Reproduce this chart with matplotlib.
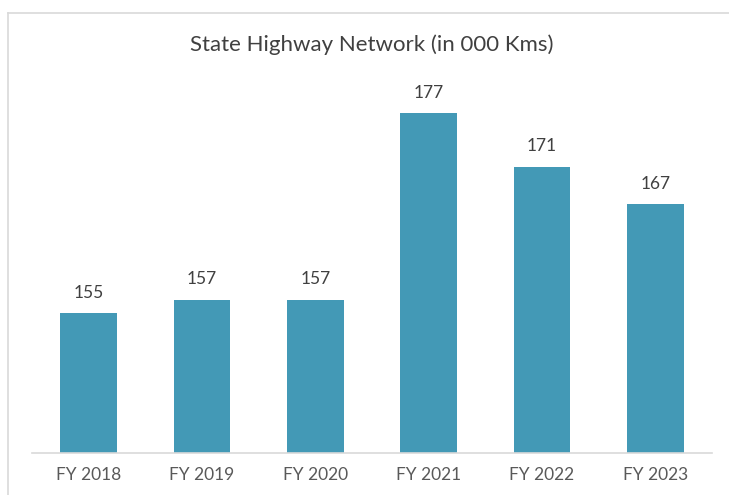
import matplotlib
matplotlib.use("Agg")
import matplotlib.pyplot as plt
from matplotlib.lines import Line2D

categories = ["FY 2018", "FY 2019", "FY 2020", "FY 2021", "FY 2022", "FY 2023"]
values = [155.0, 156.5, 156.5, 177.0, 171.1, 167.0]
value_labels = ["155", "157", "157", "177", "171", "167"]
title = "State Highway Network (in 000 Kms)"

plt.rcParams['font.family'] = ['Lato', 'DejaVu Sans']

fig = plt.figure(figsize=(7.29, 4.95), dpi=100)
W, H = 729, 495
ax = fig.add_axes([32 / W, 1 - 453 / H, (712 - 32) / W, (453 - 87) / H])

x = range(len(categories))
ax.bar(x, values, width=0.5, color="#4399b6", zorder=2)
ax.set_xlim(-0.5, len(categories) - 0.5)
ax.set_ylim(139.6, 179.9)
for xi, v, lab in zip(x, values, value_labels):
    ax.annotate(lab, (xi, v), xytext=(0, 9), textcoords="offset points",
                ha="center", va="bottom", fontsize=12.5, color="#404040")

ax.set_xticks(list(x))
ax.set_xticklabels(categories, fontsize=12.5, color="#595959")
ax.tick_params(axis="x", length=0, pad=10)
ax.set_yticks([])
for s in ["top", "right", "left"]:
    ax.spines[s].set_visible(False)
ax.spines["bottom"].set_color("#d9d9d9")
ax.spines["bottom"].set_linewidth(1.2)

fig.text(372 / W, 1 - 45 / H, title, ha="center", va="center", fontsize=16, color="#404040")

# outer border (partially cropped)
fig.add_artist(Line2D([7.5 / W, 1], [1 - 12.5 / H, 1 - 12.5 / H], transform=fig.transFigure, color="#d9d9d9", lw=1.2))
fig.add_artist(Line2D([7.5 / W, 7.5 / W], [0, 1 - 12.5 / H], transform=fig.transFigure, color="#d9d9d9", lw=1.2))

fig.savefig("out.png", dpi=100, facecolor="white")
